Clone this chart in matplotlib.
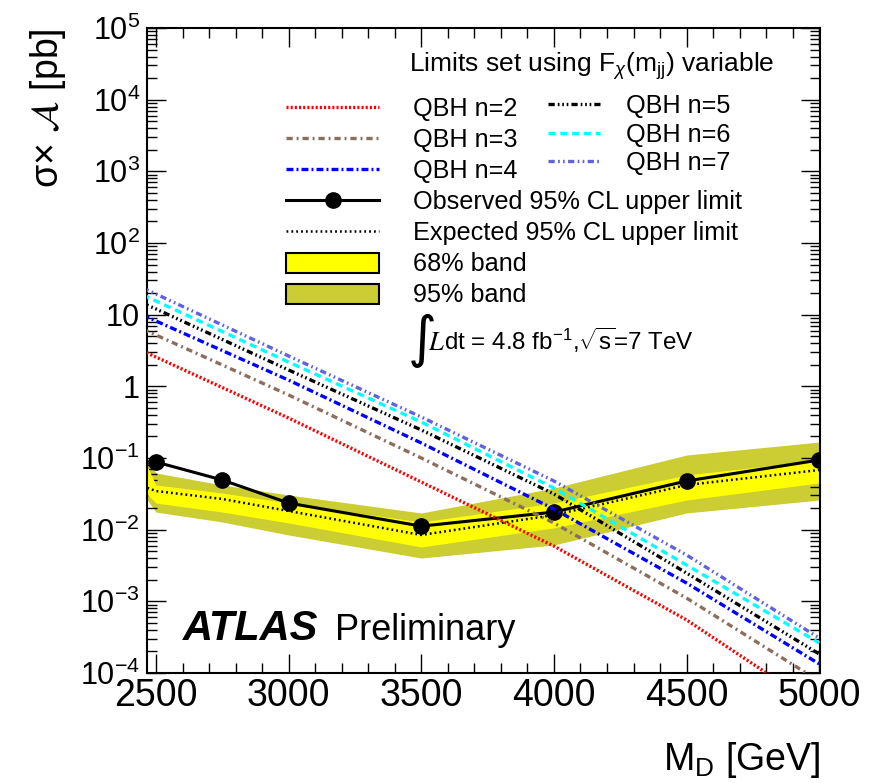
import numpy as np
import matplotlib
matplotlib.use('Agg')
import matplotlib.pyplot as plt
from matplotlib.ticker import MultipleLocator, LogLocator, FuncFormatter, NullFormatter
from matplotlib.lines import Line2D
from matplotlib.patches import Patch

plt.rcParams['font.family'] = ['Liberation Sans', 'DejaVu Sans']
plt.rcParams['mathtext.fontset'] = 'custom'
plt.rcParams['mathtext.rm'] = 'Liberation Sans'
plt.rcParams['mathtext.it'] = 'Liberation Sans:italic'
plt.rcParams['mathtext.bf'] = 'Liberation Sans:bold'
plt.rcParams['lines.scale_dashes'] = False

# ---------------- data ----------------
mass_obs = [2500, 2750, 3000, 3500, 4000, 4500, 5000]
observed = [0.0879, 0.0493, 0.0235, 0.0112, 0.0176, 0.0478, 0.0937]

mass_exp = [2450, 2500, 2750, 3000, 3500, 4000, 4500, 5000]
expected = [0.0404, 0.0346, 0.0268, 0.0182, 0.00843, 0.0160, 0.0420, 0.0680]
band68_lo = [0.0357, 0.0235, 0.0176, 0.0124, 0.00573, 0.0106, 0.0259, 0.0448]
band68_hi = [0.103, 0.0420, 0.0325, 0.0235, 0.0128, 0.0235, 0.0579, 0.0937]
band95_lo = [0.0315, 0.0176, 0.0128, 0.00843, 0.00402, 0.00611, 0.0171, 0.0259]
band95_hi = [0.110, 0.0618, 0.0420, 0.0305, 0.0171, 0.0381, 0.110, 0.167]

mass_qbh = [2450, 2500, 3000, 3500, 4000, 4500, 5000]
qbh_n2 = [3.11, 2.56, 0.361, 0.0462, 5.9e-3, 5.5e-4, 3.25e-5]
qbh_n3 = [6.3, 5.2, 0.757, 0.100, 0.0124, 1.11e-3, 7.7e-5]
qbh_n4 = [9.9, 8.15, 1.22, 0.162, 0.0194, 1.80e-3, 1.34e-4]
qbh_n5 = [14.5, 12.0, 1.69, 0.246, 0.0315, 2.48e-3, 1.84e-4]
qbh_n6 = [18.8, 15.5, 2.18, 0.318, 0.0381, 3.21e-3, 2.63e-4]
qbh_n7 = [23.5, 19.4, 2.65, 0.373, 0.0478, 4.43e-3, 3.08e-4]

qbh_labels = ['QBH n=2', 'QBH n=3', 'QBH n=4', 'QBH n=5', 'QBH n=6', 'QBH n=7']
x_ticks = [2500, 3000, 3500, 4000, 4500, 5000]

# ---------------- styles ----------------
c_yellow = '#ffff00'
c_olive = '#cccc33'
qbh_styles = [
    dict(color='#ff0000', dashes=(1.5, 1.5)),
    dict(color='#8c6e5d', dashes=(4.5, 2.8, 1.4, 2.8)),
    dict(color='#0000ff', dashes=(5.0, 2.2, 1.4, 2.2)),
    dict(color='#000000', dashes=(4.5, 2.2, 1.2, 2.0, 1.2, 2.0, 1.2, 2.2)),
    dict(color='#00ffff', dashes=(5.0, 3.5)),
    dict(color='#6262dc', dashes=(4.5, 2.4, 1.2, 2.4, 1.2, 2.4)),
]
FS_LEG = 18.2

W, H = 872, 783
fig = plt.figure(figsize=(W / 100, H / 100), dpi=100)
L, R, T, B = 147, 820, 28, 673
ax = fig.add_axes([L / W, 1 - B / H, (R - L) / W, (B - T) / H])

def ax_xy(px, py):
    return (px - L) / (R - L), (B - py) / (B - T)

ax.fill_between(mass_exp, band95_lo, band95_hi, color=c_olive, lw=0, zorder=1)
ax.fill_between(mass_exp, band68_lo, band68_hi, color=c_yellow, lw=0, zorder=2)
ax.plot(mass_exp, expected, color='black', lw=1.8, dashes=(1.3, 2.2), zorder=3)
ax.plot(mass_obs, observed, color='black', lw=2.2, marker='o', ms=11, zorder=4)

qbh_all = [qbh_n2, qbh_n3, qbh_n4, qbh_n5, qbh_n6, qbh_n7]
for vals, st in zip(qbh_all, qbh_styles):
    ax.plot(mass_qbh, vals, lw=2.4, zorder=5, **st)

ax.set_yscale('log')
ax.set_xlim(2466, 5003)
ax.set_ylim(1e-4, 1e5)

ax.xaxis.set_major_locator(plt.FixedLocator(x_ticks))
ax.xaxis.set_minor_locator(MultipleLocator(100))
ax.yaxis.set_major_locator(LogLocator(base=10, numticks=30))
ax.yaxis.set_minor_locator(LogLocator(base=10, subs=np.arange(2, 10), numticks=200))
ax.yaxis.set_minor_formatter(NullFormatter())

def yfmt(v, pos):
    e = int(round(np.log10(v)))
    if e == 0:
        return '1'
    if e == 1:
        return '10'
    return r'$10^{%d}$' % e
ax.yaxis.set_major_formatter(FuncFormatter(yfmt))

ax.tick_params(which='both', direction='in', top=True, right=True, width=1.0, color='black')
ax.tick_params(which='major', length=13.5)
ax.tick_params(which='minor', length=7)
ax.tick_params(axis='x', which='major', labelsize=27, pad=3.5)
ax.tick_params(axis='y', which='major', labelsize=22, pad=5)
for s in ax.spines.values():
    s.set_linewidth(1.5)

# axis titles
fig.text(48 / W, 1 - 28 / H, r'σ× $\mathcal{A}$ [pb]', rotation=90,
         ha='center', va='top', fontsize=27, math_fontfamily='stix')
fig.text(820 / W, 1 - 770 / H, r'M$_{\mathrm{D}}$ [GeV]', ha='right', va='baseline', fontsize=27)

# ATLAS label
x0, y0 = ax_xy(183, 640)
ax.text(x0, y0, 'ATLAS', transform=ax.transAxes, fontsize=30, fontweight='bold',
        fontstyle='italic', va='baseline', ha='left')
x1, _ = ax_xy(335, 640)
ax.text(x1, y0, 'Preliminary', transform=ax.transAxes, fontsize=26, va='baseline', ha='left')

# legend header
xt, yt = ax_xy(409, 72)
ax.text(xt, yt, r'Limits set using F$_{\chi}$(m$_{\mathrm{jj}}$) variable', transform=ax.transAxes,
        fontsize=19, va='baseline', ha='left')

# luminosity text
xi, yi = ax_xy(408, 341)
ax.text(xi, yi, '\u222b', transform=ax.transAxes, fontsize=40, va='center', ha='left',
        family='DejaVu Sans')
xl, yl = ax_xy(428, 350)
ax.text(xl, yl, r'$L$', transform=ax.transAxes,
        fontsize=19, va='baseline', ha='left', math_fontfamily='stix')
xd, _ = ax_xy(444, 350)
ax.text(xd, yl, r'dt = 4.8 fb$^{-1}$,$\sqrt{\mathrm{s}}$=7 TeV', transform=ax.transAxes,
        fontsize=17.4, va='baseline', ha='left')

# legends
h = []
for st in qbh_styles[:3]:
    h.append(Line2D([], [], lw=2.4, **st))
h.append(Line2D([], [], color='black', lw=2.2, marker='o', ms=11))
h.append(Line2D([], [], color='black', lw=1.8, dashes=(1.3, 2.2)))
h.append(Patch(facecolor=c_yellow, edgecolor='black', lw=1.5))
h.append(Patch(facecolor=c_olive, edgecolor='black', lw=1.5))
labs = qbh_labels[:3] + ['Observed 95% CL upper limit', 'Expected 95% CL upper limit',
                         '68% band', '95% band']
la, lb = ax_xy(286, 97)
leg1 = ax.legend(h, labs, loc='upper left', bbox_to_anchor=(la, lb), frameon=False,
                 fontsize=FS_LEG, handlelength=3.68, handletextpad=1.34, labelspacing=0.28,
                 handleheight=0.85, borderpad=0, borderaxespad=0, numpoints=1)
ax.add_artist(leg1)

h2 = [Line2D([], [], lw=2.4, **st) for st in qbh_styles[3:]]
lc, ld = ax_xy(548, 94)
ax.legend(h2, qbh_labels[3:], loc='upper left', bbox_to_anchor=(lc, ld), frameon=False,
          fontsize=FS_LEG, handlelength=2.05, handletextpad=1.02, labelspacing=0.18,
          borderpad=0, borderaxespad=0)

fig.savefig('out.png', dpi=100)
